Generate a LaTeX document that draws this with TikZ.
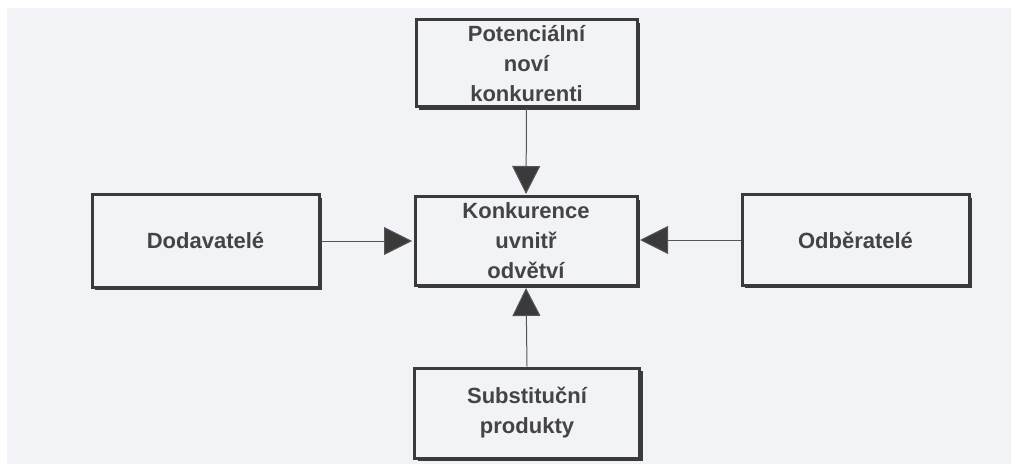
\documentclass[tikz,border=0pt]{standalone}
\usepackage{fontspec}
\setmainfont{Liberation Sans}
\usetikzlibrary{arrows.meta,shadows}
\definecolor{bgc}{HTML}{F2F3F6}
\definecolor{framec}{HTML}{3A3A3A}
\definecolor{textc}{HTML}{444444}
\definecolor{linec}{HTML}{555555}
\tikzset{
  box/.style={draw=framec, line width=3pt, fill=bgc, text=textc,
    font=\fontsize{22}{30}\selectfont\bfseries, align=center, inner sep=0pt,
    drop shadow={shadow xshift=3pt, shadow yshift=-3pt, fill=framec, opacity=1}},
  conn/.style={draw=linec, line width=1pt,
    -{Triangle[length=28pt,width=28pt,fill=framec]}, shorten >=1.5pt}
}
\begin{document}
\begin{tikzpicture}[x=1pt,y=1pt]
\useasboundingbox (0,0) rectangle (1011,464);
\fill[white] (0,0) rectangle (1011,464);
\fill[bgc] (7,0) rectangle (1011,456);
\node[box, minimum width=221pt, minimum height=87pt] (top) at (526.5,400.5) {Potenciální\\noví\\konkurenti};
\node[box, minimum width=222pt, minimum height=88pt] (mid) at (526,223) {Konkurence\\uvnitř\\odvětví};
\node[box, minimum width=227pt, minimum height=92pt] (left) at (205.5,223) {Dodavatelé};
\node[box, minimum width=227pt, minimum height=90pt] (right) at (855.5,224) {Odběratelé};
\node[box, minimum width=225pt, minimum height=90pt] (bot) at (527,51) {Substituční\\produkty};
\draw[conn] (top.south) -- (mid.north);
\draw[conn] (bot.north) -- (mid.south);
\draw[conn] (left.east) -- (left.east -| mid.west);
\draw[conn] (right.west) -- (right.west -| mid.east);
\end{tikzpicture}
\end{document}
